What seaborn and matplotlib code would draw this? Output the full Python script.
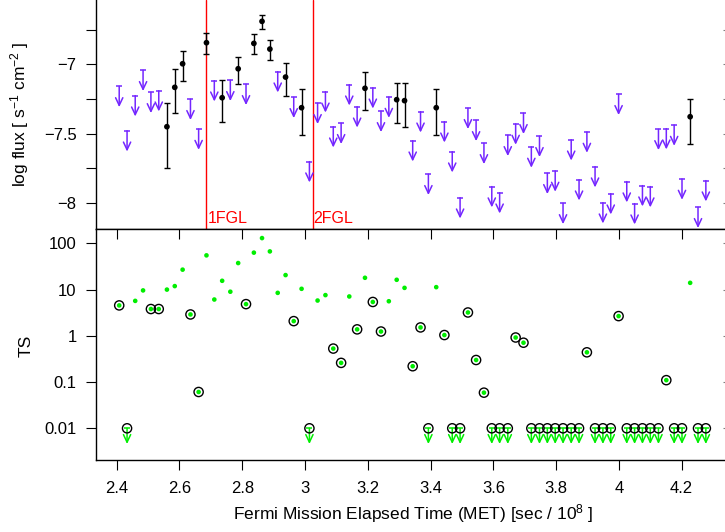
import numpy as np
import matplotlib
matplotlib.use("Agg")
import matplotlib.pyplot as plt
import seaborn as sns
from matplotlib.ticker import FixedLocator, FixedFormatter, NullLocator

# monthly time bins, MET / 1e8 s
met = [2.408, 2.433, 2.459, 2.484, 2.509, 2.534, 2.560, 2.585, 2.610, 2.635,
       2.661, 2.686, 2.711, 2.736, 2.762, 2.787, 2.812, 2.837, 2.863, 2.888,
       2.913, 2.938, 2.964, 2.989, 3.014, 3.040, 3.065, 3.090, 3.115, 3.141,
       3.166, 3.191, 3.216, 3.242, 3.267, 3.292, 3.317, 3.343, 3.368, 3.393,
       3.418, 3.444, 3.469, 3.494, 3.519, 3.545, 3.570, 3.595, 3.620, 3.646,
       3.671, 3.696, 3.721, 3.747, 3.772, 3.797, 3.822, 3.848, 3.873, 3.898,
       3.924, 3.949, 3.974, 3.999, 4.025, 4.050, 4.075, 4.100, 4.126, 4.151,
       4.176, 4.201, 4.227, 4.252, 4.277]

# test statistic per bin (0 = not positive, drawn at the floor with an arrow)
ts = [4.55, 0, 5.7, 9.6, 3.8, 3.8, 10.0, 11.9, 27.0, 2.9,
      0.061, 55.0, 6.1, 15.5, 9.0, 37.5, 4.85, 63.0, 130.0, 67.0,
      8.5, 20.6, 2.08, 10.4, 0, 5.8, 7.6, 0.53, 0.26, 7.1,
      1.38, 18.0, 5.4, 1.24, 5.6, 16.3, 10.9, 0.22, 1.52, 0,
      11.3, 1.04, 0, 0, 3.2, 0.30, 0.059, 0, 0, 0,
      0.92, 0.71, 0, 0, 0, 0, 0, 0, 0, 0.44,
      0, 0, 0, 2.67, 0, 0, 0, 0, 0, 0.11,
      0, 0, 14.0, 0, 0]
ts_circled = [1, 1, 0, 0, 1, 1, 0, 0, 0, 1,
              1, 0, 0, 0, 0, 0, 1, 0, 0, 0,
              0, 0, 1, 0, 1, 0, 0, 1, 1, 0,
              1, 0, 1, 1, 0, 0, 0, 1, 1, 1,
              0, 1, 1, 1, 1, 1, 1, 1, 1, 1,
              1, 1, 1, 1, 1, 1, 1, 1, 1, 1,
              1, 1, 1, 1, 1, 1, 1, 1, 1, 1,
              1, 1, 0, 1, 1]
ts_floor = 0.01

# detected bins: log flux with lower / upper error
det_met = [2.560, 2.585, 2.610, 2.686, 2.736, 2.787, 2.837, 2.863, 2.888, 2.938,
           2.989, 3.191, 3.292, 3.317, 3.418, 4.227]
det_flux = [-7.450, -7.166, -6.996, -6.844, -7.241, -7.032, -6.849, -6.690, -6.890, -7.092,
            -7.313, -7.173, -7.255, -7.262, -7.313, -7.378]
det_lo = [-7.748, -7.353, -7.118, -6.928, -7.418, -7.140, -6.926, -6.748, -6.969, -7.226,
          -7.512, -7.330, -7.423, -7.450, -7.510, -7.575]
det_hi = [-7.277, -7.036, -6.902, -6.776, -7.115, -6.945, -6.782, -6.642, -6.825, -6.989,
          -7.178, -7.058, -7.133, -7.133, -7.180, -7.248]

# upper limits on log flux
ul_met = [2.408, 2.433, 2.459, 2.484, 2.509, 2.534, 2.635, 2.661, 2.711, 2.762,
          2.812, 2.913, 2.964, 3.014, 3.040, 3.065, 3.090, 3.115, 3.141, 3.166,
          3.216, 3.242, 3.267, 3.343, 3.368, 3.393, 3.444, 3.469, 3.494, 3.519,
          3.545, 3.570, 3.595, 3.620, 3.646, 3.671, 3.696, 3.721, 3.747, 3.772,
          3.797, 3.822, 3.848, 3.873, 3.898, 3.924, 3.949, 3.974, 3.999, 4.025,
          4.050, 4.075, 4.100, 4.126, 4.151, 4.176, 4.201, 4.252, 4.277]
ul_flux = [-7.159, -7.479, -7.226, -7.043, -7.202, -7.190, -7.252, -7.467, -7.118, -7.115,
           -7.144, -7.053, -7.238, -7.702, -7.281, -7.198, -7.450, -7.425, -7.147, -7.306,
           -7.169, -7.339, -7.236, -7.551, -7.342, -7.793, -7.414, -7.630, -7.962, -7.317,
           -7.404, -7.570, -7.882, -7.926, -7.512, -7.430, -7.353, -7.596, -7.519, -7.786,
           -7.769, -8.003, -7.544, -7.832, -7.488, -7.738, -7.998, -7.933, -7.216, -7.846,
           -8.005, -7.875, -7.882, -7.469, -7.464, -7.438, -7.827, -8.031, -7.839]

# catalogue end dates
catalog_met = [2.686, 3.024]
catalog_names = ["1FGL", "2FGL"]

flux_ticks = [-8, -7.5, -7]
flux_labels = ["\u22128", "\u22127.5", "\u22127"]
flux_minor = [-7.75, -7.25, -6.75]
met_ticks = [2.4, 2.6, 2.8, 3.0, 3.2, 3.4, 3.6, 3.8, 4.0, 4.2]
met_labels = ["2.4", "2.6", "2.8", "3", "3.2", "3.4", "3.6", "3.8", "4", "4.2"]
ts_ticks = [0.01, 0.1, 1, 10, 100]
ts_labels = ["0.01", "0.1", "1", "10", "100"]

UL_COLOR = "#7426ff"
TS_COLOR = "#00ee00"
ARROW = "->,head_length=0.55,head_width=0.26"

sns.set_style("ticks")
plt.rcParams["font.family"] = ["Liberation Sans", "DejaVu Sans"]
plt.rcParams["mathtext.fontset"] = "custom"
plt.rcParams["mathtext.rm"] = "Liberation Sans"
plt.rcParams["mathtext.default"] = "regular"
plt.rcParams["axes.edgecolor"] = "black"
plt.rcParams["text.color"] = "black"
plt.rcParams["xtick.color"] = "black"
plt.rcParams["ytick.color"] = "black"

fig = plt.figure(figsize=(7.25, 5.32), dpi=100)
ax1 = fig.add_axes([0.132, 0.569, 0.879, 0.431])
ax2 = fig.add_axes([0.132, 0.1353, 0.879, 0.4336])
xlim = (2.3331, 4.3634)

# ---- top panel: light curve
ax1.errorbar(det_met, det_flux,
             yerr=[np.subtract(det_flux, det_lo), np.subtract(det_hi, det_flux)],
             fmt="none", ecolor="black", elinewidth=1.0, capsize=2.5, capthick=1.0, zorder=2)
sns.scatterplot(x=det_met, y=det_flux, ax=ax1, color="black", s=17,
                edgecolor="none", zorder=3)
ax1.plot(ul_met, ul_flux, ls="none", marker="_", ms=5, mew=1.1, color=UL_COLOR)
for x, f in zip(ul_met, ul_flux):
    ax1.annotate("", xy=(x, f - 0.15), xytext=(x, f),
                 arrowprops=dict(arrowstyle=ARROW, color=UL_COLOR, lw=1.1,
                                 shrinkA=0, shrinkB=0, mutation_scale=10))
for x, name in zip(catalog_met, catalog_names):
    ax1.axvline(x, color="red", lw=1.0, zorder=1)
    ax1.text(x + 0.003, -8.146, name, color="red", fontsize=11.5,
             ha="left", va="baseline")

ax1.set_xlim(*xlim)
ax1.set_ylim(-8.19, -6.536)
ax1.yaxis.set_major_locator(FixedLocator(flux_ticks))
ax1.yaxis.set_major_formatter(FixedFormatter(flux_labels))
ax1.yaxis.set_minor_locator(FixedLocator(flux_minor))
ax1.tick_params(axis="y", which="both", direction="out", length=7.2, width=0.8,
                labelsize=12, pad=6.5)
ax1.tick_params(axis="x", which="both", bottom=False, labelbottom=False)
ax1.spines["top"].set_visible(False)
ax1.spines["right"].set_visible(False)
for s in ("left", "bottom"):
    ax1.spines[s].set_linewidth(1.0)
r1 = ax1.secondary_yaxis("right")
r1.set_yticks(flux_ticks + flux_minor)
r1.tick_params(direction="in", length=7.2, width=0.8, labelright=False, colors="0.5")
r1.spines["right"].set_visible(False)

# ---- bottom panel: TS
ts_arr = np.array(ts, dtype=float)
met_arr = np.array(met)
pos = ts_arr > 0
ts_plot = np.where(pos, ts_arr, ts_floor)
circ = np.array(ts_circled, dtype=bool)

sns.scatterplot(x=met_arr[pos], y=ts_arr[pos], ax=ax2, color=TS_COLOR, s=11,
                edgecolor="none", zorder=3)
ax2.scatter(met_arr[circ], ts_plot[circ], s=44, facecolors="none",
            edgecolors="black", linewidths=1.0, zorder=4)
ax2.plot(met_arr[~pos], ts_plot[~pos], ls="none", marker="_", ms=4, mew=1.1,
         color=TS_COLOR, zorder=2)
for x in met_arr[~pos]:
    ax2.annotate("", xy=(x, ts_floor * 10 ** -0.34), xytext=(x, ts_floor),
                 arrowprops=dict(arrowstyle=ARROW, color=TS_COLOR, lw=1.1,
                                 shrinkA=0, shrinkB=0, mutation_scale=10), zorder=2)

ax2.set_yscale("log")
ax2.set_xlim(*xlim)
ax2.set_ylim(0.00206, 201)
ax2.xaxis.set_major_locator(FixedLocator(met_ticks))
ax2.xaxis.set_major_formatter(FixedFormatter(met_labels))
ax2.xaxis.set_minor_locator(NullLocator())
ax2.yaxis.set_major_locator(FixedLocator(ts_ticks))
ax2.yaxis.set_major_formatter(FixedFormatter(ts_labels))
ax2.yaxis.set_minor_locator(NullLocator())
ax2.tick_params(axis="both", which="major", direction="out", length=7.2, width=0.8,
                labelsize=12, pad=6.5)
ax2.tick_params(axis="x", pad=8)
ax2.spines["right"].set_visible(False)
for s in ("left", "bottom", "top"):
    ax2.spines[s].set_linewidth(1.0)
t2 = ax2.secondary_xaxis("top")
t2.set_xticks(met_ticks)
t2.tick_params(direction="in", length=7.2, width=0.8, labeltop=False)
t2.spines["top"].set_visible(False)
r2 = ax2.secondary_yaxis("right")
r2.set_yticks(ts_ticks)
r2.yaxis.set_minor_locator(NullLocator())
r2.tick_params(direction="in", length=7.2, width=0.8, labelright=False, colors="0.5")
r2.spines["right"].set_visible(False)

fig.text(20 / 725, 1 - 114 / 532, "log flux [ s$^{-1}$ cm$^{-2}$ ]", rotation=90,
         ha="center", va="center", fontsize=12.5)
fig.text(26 / 725, 1 - 346 / 532, "TS", rotation=90, ha="center", va="center",
         fontsize=12.5)
fig.text(413 / 725, 1 - 514 / 532, "Fermi Mission Elapsed Time (MET) [sec / 10$^{8}$ ]",
         ha="center", va="center", fontsize=12.5)

fig.savefig("out.png", dpi=100)
